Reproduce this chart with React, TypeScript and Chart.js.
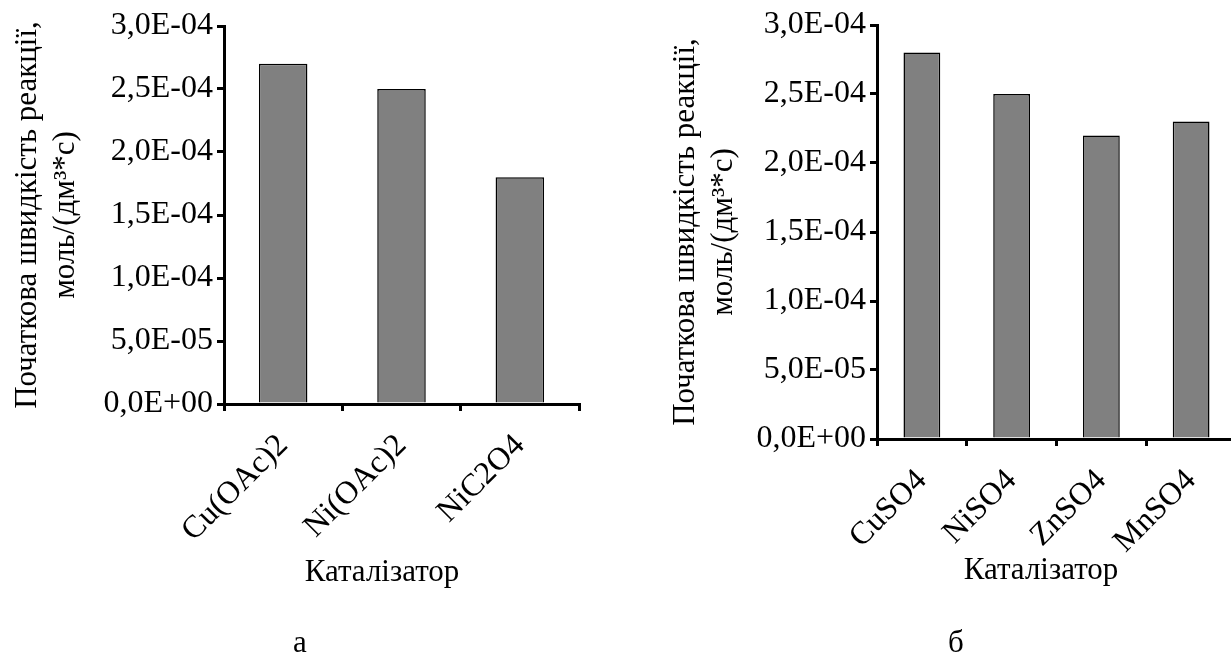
import React, { useEffect, useRef } from 'react';
import { Chart, registerables } from 'chart.js';

Chart.register(...registerables);

// ---- data ----
const leftCategories = ['Cu(OAc)2', 'Ni(OAc)2', 'NiC2O4'];
const leftValues = [2.7e-4, 2.5e-4, 1.8e-4];
const rightCategories = ['CuSO4', 'NiSO4', 'ZnSO4', 'MnSO4'];
const rightValues = [2.8e-4, 2.5e-4, 2.2e-4, 2.3e-4];
const yTickValues = [0, 5e-5, 1e-4, 1.5e-4, 2e-4, 2.5e-4, 3e-4];
const yTitleLines = ['Початкова швидкість реакції,', 'моль/(дм³*с)'];
const xTitle = 'Каталізатор';
const captionLeft = 'а';
const captionRight = 'б';

const FAMILY = "'Liberation Serif', 'Times New Roman', serif";

function fmtSci(v: number): string {
  const [m, e] = v.toExponential(1).split('e');
  const exp = parseInt(e, 10);
  const sign = exp < 0 ? '-' : '+';
  return m.replace('.', ',') + 'E' + sign + Math.abs(exp).toString().padStart(2, '0');
}

const textPlugin = {
  id: 'extraText',
  afterDraw(chart: any, _args: any, opts: any) {
    const ctx = chart.ctx as CanvasRenderingContext2D;
    for (const it of (opts && opts.items) || []) {
      ctx.save();
      ctx.font = `${it.size}px ${FAMILY}`;
      ctx.fillStyle = '#000';
      ctx.textAlign = 'center';
      ctx.textBaseline = 'alphabetic';
      ctx.fillText(it.text, it.x, it.y);
      ctx.restore();
    }
  },
};

interface Layout {
  yWidth: number;
  xHeight: number;
  padTop: number;
  padRight: number;
  titlePadTop: number;
  items: { text: string; x: number; y: number; size: number }[];
}

function makeConfig(labels: string[], values: number[], L: Layout): any {
  return {
    type: 'bar',
    data: {
      labels,
      datasets: [
        {
          data: values,
          backgroundColor: '#808080',
          borderColor: '#000000',
          borderWidth: 1.5,
          barPercentage: 0.41,
          categoryPercentage: 1,
        },
      ],
    },
    options: {
      responsive: false,
      animation: false,
      devicePixelRatio: 1,
      layout: { padding: { left: 0, top: L.padTop, right: L.padRight, bottom: 0 } },
      plugins: {
        legend: { display: false },
        tooltip: { enabled: false },
        extraText: { items: L.items },
      },
      scales: {
        x: {
          type: 'category',
          offset: true,
          grid: {
            offset: true,
            drawOnChartArea: false,
            drawTicks: true,
            tickLength: 7,
            color: '#000',
            lineWidth: 3,
          },
          border: { display: true, color: '#000', width: 3 },
          ticks: {
            color: '#000',
            font: { family: FAMILY, size: 32 },
            minRotation: 45,
            maxRotation: 45,
            autoSkip: false,
            padding: 16,
          },
          afterFit: (s: any) => {
            s.height = L.xHeight;
          },
        },
        y: {
          type: 'linear',
          min: 0,
          max: 3e-4,
          afterBuildTicks: (s: any) => {
            s.ticks = yTickValues.map((value) => ({ value }));
          },
          grid: {
            drawOnChartArea: false,
            drawTicks: true,
            tickLength: 7,
            color: '#000',
            lineWidth: 3,
          },
          border: { display: true, color: '#000', width: 3 },
          ticks: {
            color: '#000',
            font: { family: FAMILY, size: 32 },
            padding: 4,
            callback: (v: any) => fmtSci(Number(v)),
          },
          title: {
            display: true,
            text: yTitleLines,
            color: '#000',
            font: { family: FAMILY, size: 31, lineHeight: '38px' },
            padding: { top: L.titlePadTop, bottom: 0 },
          },
          afterFit: (s: any) => {
            s.width = L.yWidth;
          },
        },
      },
    },
    plugins: [textPlugin],
  };
}

export default function App() {
  const leftRef = useRef<HTMLCanvasElement>(null);
  const rightRef = useRef<HTMLCanvasElement>(null);

  useEffect(() => {
    const left = new Chart(
      leftRef.current as HTMLCanvasElement,
      makeConfig(leftCategories, leftValues, {
        yWidth: 224,
        xHeight: 663 - 404,
        padTop: 26,
        padRight: 615 - 579,
        titlePadTop: 9,
        items: [
          { text: xTitle, x: 382, y: 581, size: 31 },
          { text: captionLeft, x: 300, y: 652, size: 31 },
        ],
      })
    );
    const right = new Chart(
      rightRef.current as HTMLCanvasElement,
      makeConfig(rightCategories, rightValues, {
        yWidth: 237,
        xHeight: 663 - 439,
        padTop: 25,
        padRight: 640 - 596,
        titlePadTop: 27,
        items: [
          { text: xTitle, x: 401, y: 579, size: 31 },
          { text: captionRight, x: 316, y: 652, size: 31 },
        ],
      })
    );
    return () => {
      left.destroy();
      right.destroy();
    };
  }, []);

  return (
    <div
      style={{
        position: 'fixed',
        left: 0,
        top: 0,
        width: 1231,
        height: 663,
        overflow: 'hidden',
        background: '#ffffff',
      }}
    >
      <canvas
        ref={leftRef}
        width={615}
        height={663}
        style={{ position: 'absolute', left: 0, top: 0, width: 615, height: 663 }}
      />
      <canvas
        ref={rightRef}
        width={640}
        height={663}
        style={{ position: 'absolute', left: 640, top: 0, width: 640, height: 663 }}
      />
    </div>
  );
}
